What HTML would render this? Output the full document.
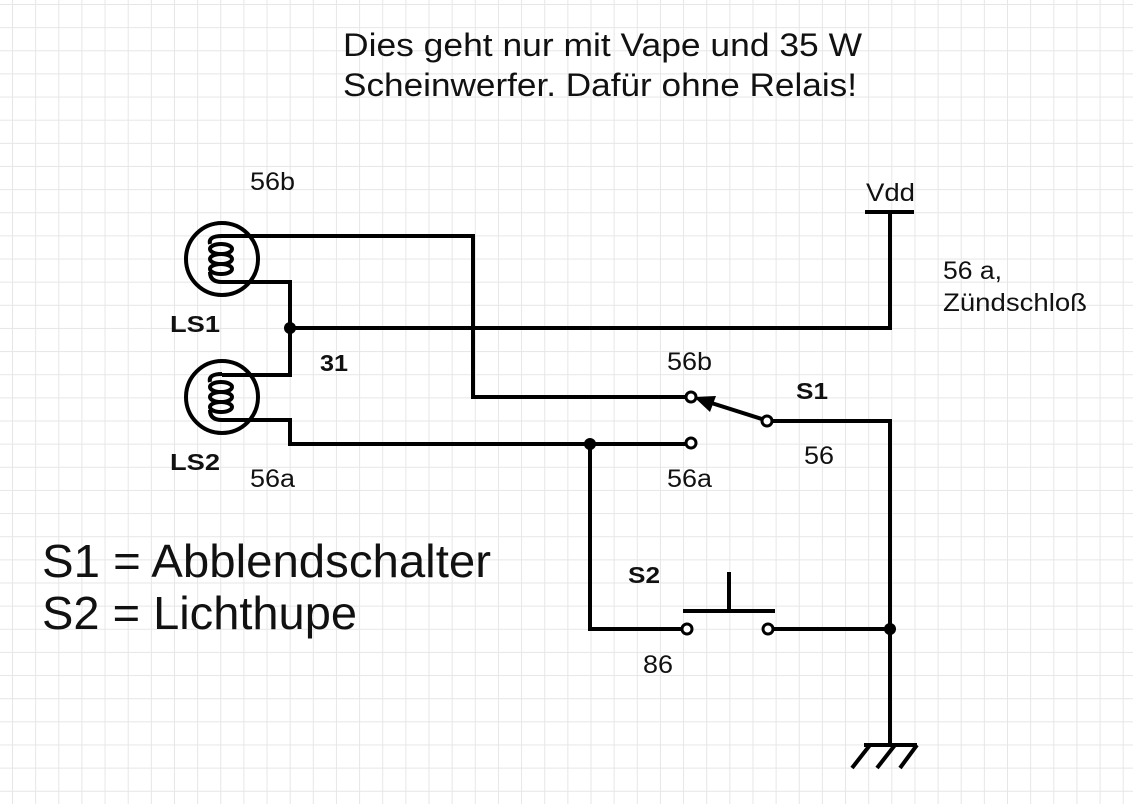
<!DOCTYPE html>
<html><head><meta charset="utf-8"><style>
body{margin:0;width:1133px;height:804px;overflow:hidden;background:#fff;font-family:"Liberation Sans",sans-serif}
svg{position:absolute;left:0;top:0}
</style></head><body>
<svg width="1133" height="804" xmlns="http://www.w3.org/2000/svg">
<defs>
<pattern id="g" x="12" y="4" width="23.14" height="23.14" patternUnits="userSpaceOnUse">
<path d="M0 0H23.14M0 0V23.14" stroke="#e6e6e6" stroke-width="2" fill="none"/>
</pattern>
</defs>
<rect width="1133" height="804" fill="url(#g)"/>
<g stroke="#000" stroke-width="4" fill="none" stroke-linecap="butt">
<circle cx="222" cy="259" r="36"/>
<circle cx="222" cy="397" r="36"/>
<path d="M222 236H473V397H690"/>
<path d="M222 282H290V375H222"/>
<path d="M222 420H290V444H690"/>
<path d="M290 328H890V212"/>
<path d="M865 212H914"/>
<path d="M590 444V629H687"/>
<path d="M767 629H890"/>
<path d="M768 421H890V745"/>
<path d="M864 745H917"/>
<path d="M870 745L852 768M895 745L877 768M917 745L900 768"/>
<path d="M768 421L702 400"/>
<path d="M683 611H775M729 572V611"/>
</g>
<g stroke="#000" stroke-width="4" fill="none">
<path d="M222 236Q208 236 210 244"/>
<ellipse cx="221" cy="249" rx="11" ry="5"/>
<ellipse cx="221" cy="259" rx="11" ry="5"/>
<ellipse cx="221" cy="269" rx="11" ry="5"/>
<path d="M210 272Q210 282 222 282"/>
<path d="M222 374Q208 374 210 382"/>
<ellipse cx="221" cy="387" rx="11" ry="5"/>
<ellipse cx="221" cy="397" rx="11" ry="5"/>
<ellipse cx="221" cy="407" rx="11" ry="5"/>
<path d="M210 410Q210 420 222 420"/>
</g>
<polygon points="694,397 716,396 710,412" fill="#000"/>
<g fill="#000"><circle cx="290" cy="328" r="6"/><circle cx="590" cy="444" r="6"/><circle cx="890" cy="629" r="6"/></g>
<g fill="#fff" stroke="#000" stroke-width="3">
<circle cx="691" cy="397" r="5"/><circle cx="691" cy="443" r="5"/><circle cx="767" cy="421" r="5"/>
<circle cx="687" cy="629" r="5"/><circle cx="768" cy="629" r="5"/>
</g>
<g font-size="25" fill="#111" lengthAdjust="spacingAndGlyphs">
<text x="343" y="56" font-size="32" textLength="519" lengthAdjust="spacingAndGlyphs">Dies geht nur mit Vape und 35 W</text>
<text x="343" y="96" font-size="32" textLength="514" lengthAdjust="spacingAndGlyphs">Scheinwerfer. Dafür ohne Relais!</text>
<text x="250" y="190" textLength="45" lengthAdjust="spacingAndGlyphs">56b</text>
<text x="866" y="201" textLength="49" lengthAdjust="spacingAndGlyphs">Vdd</text>
<text x="943" y="279" textLength="59" lengthAdjust="spacingAndGlyphs">56 a,</text>
<text x="943" y="311" textLength="144" lengthAdjust="spacingAndGlyphs">Zündschloß</text>
<text x="667" y="370" textLength="45" lengthAdjust="spacingAndGlyphs">56b</text>
<text x="667" y="487" textLength="45" lengthAdjust="spacingAndGlyphs">56a</text>
<text x="804" y="464" textLength="30" lengthAdjust="spacingAndGlyphs">56</text>
<text x="250" y="487" textLength="45" lengthAdjust="spacingAndGlyphs">56a</text>
<text x="643" y="673" textLength="30" lengthAdjust="spacingAndGlyphs">86</text>
<g font-weight="bold" font-size="23"><text x="170" y="332" textLength="50" lengthAdjust="spacingAndGlyphs">LS1</text><text x="170" y="470" textLength="50" lengthAdjust="spacingAndGlyphs">LS2</text><text x="320" y="371" textLength="28" lengthAdjust="spacingAndGlyphs">31</text><text x="796" y="399" textLength="32" lengthAdjust="spacingAndGlyphs">S1</text><text x="628" y="583" textLength="32" lengthAdjust="spacingAndGlyphs">S2</text></g>
<text x="42" y="577" font-size="46" textLength="449" lengthAdjust="spacingAndGlyphs">S1 = Abblendschalter</text>
<text x="42" y="629" font-size="46" textLength="315" lengthAdjust="spacingAndGlyphs">S2 = Lichthupe</text>
</g>
</svg>
</body></html>
